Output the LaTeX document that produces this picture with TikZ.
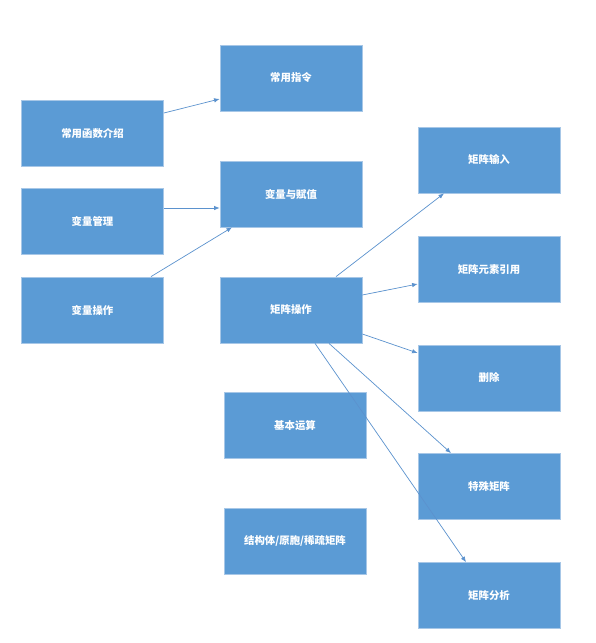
\documentclass[tikz,border=0pt]{standalone}
\usepackage{fontspec}
\newfontfamily\cjk{Noto Sans CJK SC}
\usetikzlibrary{arrows.meta}
\definecolor{boxblue}{HTML}{5B9BD5}
\definecolor{boxedge}{HTML}{A7C7E7}
\definecolor{arrowblue}{HTML}{5B92CE}
\begin{document}
\begin{tikzpicture}[x=1pt,y=-1pt,
  box/.style={fill=boxblue,draw=boxedge,line width=0.8pt,minimum width=142pt,minimum height=66pt,inner sep=0pt,text=white,font=\cjk\bfseries\fontsize{10.4}{12}\selectfont},
  conn/.style={draw=arrowblue,line width=0.7pt,-{Latex[length=5.5pt,width=4.5pt]}}]
\useasboundingbox (0,0) rectangle (596,643);
\fill[white] (0,0) rectangle (596,643);
\node[box] (n1) at (92.5,133) {常用函数介绍};
\node[box] (n2) at (291,78) {常用指令};
\node[box] (n3) at (92.5,221) {变量管理};
\node[box] (n4) at (291,194) {变量与赋值};
\node[box] (n5) at (92.5,310) {变量操作};
\node[box] (n6) at (291,310) {矩阵操作};
\node[box] (n7) at (295,425.5) {基本运算};
\node[box] (n8) at (295,541) {结构体/原胞/稀疏矩阵};
\node[box] (n9) at (489,160) {矩阵输入};
\node[box] (n10) at (489,269.5) {矩阵元素引用};
\node[box] (n11) at (489,378) {删除};
\node[box] (n12) at (489,486.5) {特殊矩阵};
\node[box] (n13) at (489,595.5) {矩阵分析};
\draw[conn] ([yshift=20pt]n1.east) -- ([yshift=-21pt]n2.west);
\draw[conn] ([yshift=13pt]n3.east) -- ([yshift=-14pt]n4.west);
\draw[conn] ([xshift=58.5pt]n5.north) -- ([xshift=-59pt]n4.south);
\draw[conn] ([xshift=45pt]n6.north) -- ([xshift=-45pt]n9.south);
\draw[conn] ([yshift=15pt]n6.east) -- ([yshift=-14.5pt]n10.west);
\draw[conn] ([yshift=-24pt]n6.east) -- ([yshift=25pt]n11.west);
\draw[conn] ([xshift=38pt]n6.south) -- ([xshift=-38pt]n12.north);
\draw[conn] ([xshift=24pt]n6.south) -- ([xshift=-23pt]n13.north);
\end{tikzpicture}
\end{document}
